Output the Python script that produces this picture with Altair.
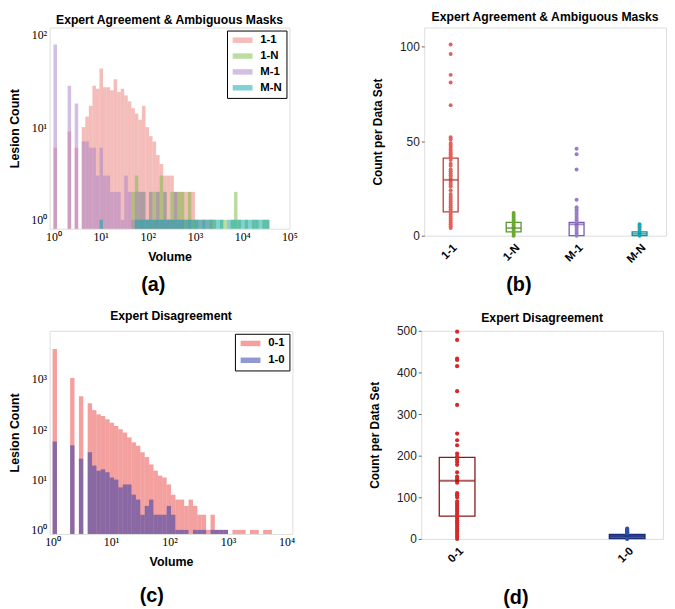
import altair as alt
import pandas as pd

# ---------------- data ----------------
LOG_BIN_WIDTH = 0.075  # histogram bins are equal-width in log10(volume)

# (a) Expert agreement & ambiguous masks: log-bin index -> lesion count
a_series = ["1-1", "1-N", "M-1", "M-N"]
a_11_bins = [0, 4, 6, 8, 9, 10, 11, 12, 13, 14, 15, 16, 17, 18, 19, 20, 21, 22, 23, 24,
             25, 26, 27, 28, 29, 30, 31, 32, 33, 34, 35, 36, 37, 38, 39, 41, 43, 44]
a_11_counts = [6, 9, 6, 10, 13, 17, 28, 26, 43, 27, 27, 25, 33, 24, 26, 22, 19, 16, 14, 12,
               17, 10, 8, 7, 5, 4, 3, 3, 3, 2, 2, 2, 2, 2, 2, 1, 1, 1]
a_1N_bins = [22, 23, 24, 25, 26, 27, 28, 29, 30, 31, 32, 33, 34, 35, 36, 37, 38, 39, 40,
             42, 44, 45, 47, 48, 50, 51, 52, 54, 56, 57, 59, 60]
a_1N_counts = [2, 3, 2, 2, 1, 2, 2, 2, 3, 2, 1, 2, 2, 2, 2, 1, 2, 1, 1,
               1, 1, 1, 1, 1, 1, 2, 1, 1, 1, 1, 1, 1]
a_M1_bins = [0, 4, 6, 8, 9, 10, 11, 12, 13, 14, 15, 16, 17, 18, 19, 20, 21, 22, 23, 24,
             25, 26, 27, 28, 29, 30, 31, 32, 33, 34, 35, 36, 38, 40, 42]
a_M1_counts = [78, 28, 18, 7, 7, 6, 6, 3, 6, 3, 3, 2, 2, 2, 1, 3, 2, 1, 2, 2,
               2, 1, 2, 1, 2, 1, 2, 1, 1, 2, 1, 1, 1, 1, 1]
a_MN_bins = [13] + list(range(23, 48)) + list(range(49, 61))
a_MN_counts = [1] * len(a_MN_bins)

# (c) Expert disagreement
c_series = ["0-1", "1-0"]
c_01_bins = [0, 4, 6, 8, 9, 10, 11, 12, 13, 14, 15, 16, 17, 18, 19, 20, 21, 22, 23, 24,
             25, 26, 27, 28, 29, 30, 31, 32, 33, 34, 35, 36, 37, 38, 39, 41, 42, 43, 45,
             46, 48, 49]
c_01_counts = [3950, 1040, 455, 328, 240, 198, 183, 158, 135, 116, 100, 86, 69, 55, 47, 35,
               28, 20, 15, 12, 11, 8, 5, 4, 4, 3, 4, 3, 2, 2, 1, 2, 1, 1, 1, 1, 1, 1, 1,
               1, 1, 1]
c_10_bins = [0, 4, 6, 8, 9, 10, 11, 12, 13, 14, 15, 16, 17, 18, 19, 20, 21, 22, 23, 24,
             25, 26, 27, 28, 29, 30, 32, 33, 34, 36, 37, 38, 39]
c_10_counts = [57, 48, 26, 35, 19, 15, 16, 14, 11, 10, 7, 8, 8, 5, 4, 2, 3, 4, 2, 2,
               2, 3, 2, 1, 1, 1, 1, 1, 1, 1, 1, 1, 1]

# (b) count per data set
b_cats = ["1-1", "1-N", "M-1", "M-N"]
b_11 = [101, 96, 85, 81, 69, 52, 51, 49, 48, 47, 46, 45, 44, 43, 42, 41, 40, 38, 37, 35,
        34, 33, 32, 31, 30, 29, 28, 27, 26, 24, 22, 21, 20, 19, 18, 17, 16, 15, 14, 13,
        12, 11, 10, 9, 8, 7, 6, 5, 4]
b_1N = [0, 1, 2, 3, 4, 5, 6, 7, 8, 9, 10, 11, 12]
b_M1 = [46, 43, 35, 19, 15, 14, 13, 12, 11, 10, 9, 8, 7, 6, 5, 4, 3, 2, 1, 0]
b_MN = [0, 1, 2, 3, 4, 5, 6]
b_q1 = [12.6, 2, 0, 0]
b_med = [29.5, 4, 6, 1]
b_q3 = [41, 7, 7, 2]

# (d) count per data set
d_cats = ["0-1", "1-0"]
d_01 = [498, 478, 433, 430, 415, 355, 322, 253, 237, 225, 205, 198, 191, 185, 178, 160,
        150, 145, 140, 135, 110, 105, 100, 90, 85, 80, 75, 70, 65, 60, 55, 50, 45, 40,
        35, 30, 25, 20, 15, 10, 5, 0]
d_10 = [0, 2, 4, 6, 8, 10, 12, 14, 16, 18, 20, 22, 25]
d_q1 = [55, 1]
d_med = [140, 7]
d_q3 = [196, 11]

# ---------------- styling ----------------
SANS = "Liberation Sans"
SERIF = "Liberation Serif"
a_colors = ["#E97B75", "#77BB41", "#A57FC7", "#00A3AD"]
c_colors = ["#E8423F", "#2130A8"]
b_pt_colors = ["#E0625C", "#6AAA34", "#9A7CC6", "#17A8B0"]
b_box_colors = ["#B8403D", "#58962E", "#7A5CB4", "#0E9098"]
d_pt_colors = ["#D42A2A", "#2C50A8"]
d_box_colors = ["#8B1A1A", "#1C2C78"]
d_box_fill = ["rgba(0,0,0,0)", "#4864B0"]

SUP = "['\u2070','\u00b9','\u00b2','\u00b3','\u2074','\u2075']"
LOG_LABEL = "'10' + " + SUP + "[round(log(datum.value)/LN10)]"

INDEP = dict(color="independent", fill="independent", stroke="independent")
SWATCH = "M-2,-0.55H2V0.55H-2Z"   # wide legend swatch


def hist_frame(names, bins_list, counts_list):
    rows = []
    for name, bins, counts in zip(names, bins_list, counts_list):
        for b, c in zip(bins, counts):
            rows.append({"series": name,
                         "lo": 10 ** (b * LOG_BIN_WIDTH),
                         "hi": 10 ** ((b + 1) * LOG_BIN_WIDTH),
                         "count": c})
    return pd.DataFrame(rows)


def panel_title(text, offset):
    return alt.TitleParams(text, font=SANS, fontSize=12.3, fontWeight="bold",
                           color="black", offset=offset, anchor="middle")


def hist_panel(df, key, names, colors, xdom, xvals, ydom, yvals, w, h, title, title_offset,
               legend_rows_pad):
    df = df.rename(columns={"series": key})
    return alt.Chart(df).mark_rect(opacity=0.5).encode(
        x=alt.X("lo:Q",
                scale=alt.Scale(type="log", domain=xdom, nice=False),
                axis=alt.Axis(values=xvals, labelExpr=LOG_LABEL, title="Volume",
                              labelFont=SERIF, labelFontSize=12, labelColor="black",
                              ticks=False, domain=False, grid=False, labelPadding=3,
                              titleFont=SANS, titleFontSize=12.5, titleFontWeight="bold",
                              titleColor="black", titlePadding=8, labelFlush=False)),
        x2="hi:Q",
        y=alt.Y("count:Q",
                scale=alt.Scale(type="log", domain=ydom, nice=False),
                axis=alt.Axis(values=yvals, labelExpr=LOG_LABEL, title="Lesion Count",
                              labelFont=SERIF, labelFontSize=12, labelColor="black",
                              ticks=False, domain=False, grid=False, labelPadding=3,
                              titleFont=SANS, titleFontSize=12.5, titleFontWeight="bold",
                              titleColor="black", titlePadding=9, labelFlush=False)),
        y2=alt.datum(ydom[0]),
        color=alt.Color(f"{key}:N", sort=names,
                        scale=alt.Scale(domain=names, range=colors),
                        legend=alt.Legend(title=None, orient="top-right", offset=3,
                                          symbolType=SWATCH, symbolSize=100,
                                          symbolOffset=6, symbolStrokeWidth=0,
                                          symbolOpacity=0.5,
                                          labelFont=SANS, labelFontSize=11.5,
                                          labelFontWeight="bold", labelColor="black",
                                          strokeColor="black", fillColor="white",
                                          padding=4, rowPadding=legend_rows_pad,
                                          labelOffset=12)),
    ).properties(width=w, height=h, title=panel_title(title, title_offset))


def box_panel(key, cats, pts_lists, q1, med, q3, pt_colors, box_colors, box_fill, ydom,
              yvals, pad, box_w, pt_size, w, h, title, title_offset):
    pts = pd.DataFrame([{key: c, "value": v} for c, vals in zip(cats, pts_lists) for v in vals])
    boxes = pd.DataFrame({key: cats, key + "m": cats, "q1": q1, "med": med, "q3": q3})
    xenc = alt.X(f"{key}:N", sort=cats, scale=alt.Scale(type="point", padding=pad),
                 axis=alt.Axis(title=None, labelAngle=315, labelFont=SANS, labelFontSize=11.5,
                               labelFontWeight="bold", labelColor="black", ticks=False,
                               domain=False, labelPadding=6))
    yaxis = alt.Axis(values=yvals, title="Count per Data Set", grid=False, domain=False,
                     tickSize=3, tickColor="#666", labelFont=SANS, labelFontSize=12,
                     labelColor="#222", labelPadding=2, titleFont=SANS, titleFontSize=12,
                     titleFontWeight="bold", titleColor="black", titlePadding=15)
    point_layer = alt.Chart(pts).mark_circle(size=pt_size, opacity=1).encode(
        x=xenc,
        y=alt.Y("value:Q", scale=alt.Scale(domain=ydom, nice=False), axis=yaxis),
        color=alt.Color(f"{key}:N", scale=alt.Scale(domain=cats, range=pt_colors), legend=None),
    )
    box_layer = alt.Chart(boxes).mark_bar(size=box_w, strokeWidth=1.3).encode(
        x=xenc,
        y=alt.Y("q1:Q"),
        y2="q3:Q",
        fill=alt.Fill(f"{key}:N", scale=alt.Scale(domain=cats, range=box_fill), legend=None),
        stroke=alt.Stroke(f"{key}:N", scale=alt.Scale(domain=cats, range=box_colors),
                          legend=None),
    )
    med_layer = alt.Chart(boxes).mark_tick(size=box_w, thickness=2).encode(
        x=xenc,
        y=alt.Y("med:Q"),
        fill=alt.Fill(f"{key}m:N", scale=alt.Scale(domain=cats, range=box_colors),
                      legend=None),
    )
    return alt.layer(box_layer, point_layer, med_layer).resolve_scale(
        fill="independent").properties(width=w, height=h, title=panel_title(title, title_offset))


def with_caption(ch, text, offset):
    return alt.vconcat(ch).properties(title=alt.TitleParams(
        text, orient="bottom", font=SANS, fontSize=20, fontWeight="bold", color="black",
        offset=offset, anchor="middle")).resolve_scale(**INDEP).resolve_legend(
        color="independent")


dfA = hist_frame(a_series, [a_11_bins, a_1N_bins, a_M1_bins, a_MN_bins],
                 [a_11_counts, a_1N_counts, a_M1_counts, a_MN_counts])
dfC = hist_frame(c_series, [c_01_bins, c_10_bins], [c_01_counts, c_10_counts])

panelA = hist_panel(dfA, "seriesA", a_series, a_colors, [0.83, 1e5],
                    [1, 10, 100, 1e3, 1e4, 1e5], [0.8, 119], [1, 10, 100], 242, 203,
                    "Expert Agreement & Ambiguous Masks", 1, 3)
panelC = hist_panel(dfC, "seriesC", c_series, c_colors, [0.89, 12600],
                    [1, 10, 100, 1e3, 1e4], [0.83, 9060], [1, 10, 100, 1e3], 245, 205,
                    "Expert Disagreement", 9, 4)

panelB = box_panel("catB", b_cats, [b_11, b_1N, b_M1, b_MN], b_q1, b_med, b_q3, b_pt_colors,
                   b_box_colors, ["rgba(0,0,0,0)"] * 4, [0, 110], [0, 50, 100], 0.42, 15,
                   16, 244, 210, "Expert Agreement & Ambiguous Masks", 4)
panelD = box_panel("catD", d_cats, [d_01, d_10], d_q1, d_med, d_q3, d_pt_colors, d_box_colors,
                   d_box_fill, [0, 500], [0, 100, 200, 300, 400, 500], 0.211, 36, 18,
                   244, 210, "Expert Disagreement", 1)

row1 = alt.hconcat(with_caption(panelA, "(a)", 12), with_caption(panelB, "(b)", 10),
                   spacing=73).resolve_scale(**INDEP).resolve_legend(color="independent")
row2 = alt.hconcat(with_caption(panelC, "(c)", 18), with_caption(panelD, "(d)", 23),
                   spacing=73).resolve_scale(**INDEP).resolve_legend(color="independent")

chart = alt.vconcat(row1, row2, spacing=14).resolve_scale(**INDEP).resolve_legend(
    color="independent").properties(padding=0).configure_view(
    stroke="#777", strokeWidth=1
).configure(background="white")

chart.save("out.html", embed_options={"renderer": "svg", "actions": False})
